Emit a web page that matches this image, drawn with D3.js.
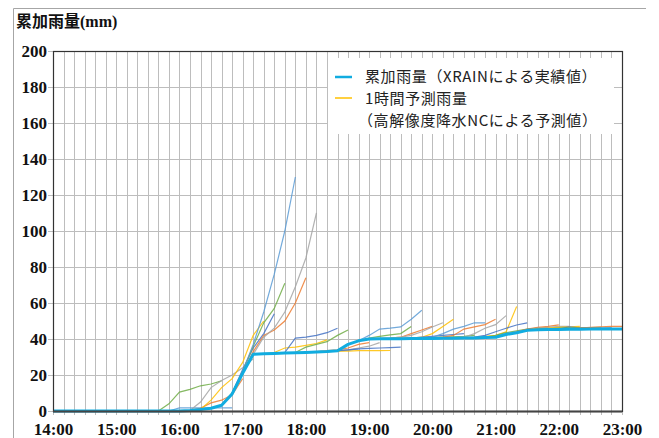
<!DOCTYPE html>
<html>
<head>
<meta charset="utf-8">
<script src="https://cdn.jsdelivr.net/npm/d3@7"></script>
<style>
  html, body { margin: 0; padding: 0; background: #fff; }
  svg { display: block; }
</style>
</head>
<body>
<svg id="chart" width="659" height="438"></svg>
<script>
// Observed cumulative rainfall (XRAIN), every 10 minutes
const obsTimes = ["14:00","14:10","14:20","14:30","14:40","14:50","15:00","15:10","15:20","15:30","15:40","15:50",
  "16:00","16:10","16:20","16:30","16:40","16:50","17:00","17:10","17:20","17:30","17:40","17:50",
  "18:00","18:10","18:20","18:30","18:40","18:50","19:00","19:10","19:20","19:30","19:40","19:50",
  "20:00","20:10","20:20","20:30","20:40","20:50","21:00","21:10","21:20","21:30","21:40","21:50",
  "22:00","22:10","22:20","22:30","22:40","22:50","23:00"];
const obsValues = [0,0,0,0,0,0,0,0,0,0,0,0,
  0,0.3,0.8,1.5,3.2,9.5,21,31.5,31.8,32,32.2,32.3,
  32.5,32.8,33,33.5,37,39,40,40.2,40.2,40.2,40.3,40.3,
  40.3,40.4,40.4,40.5,40.6,40.8,41,42.5,43.5,44.8,45.2,45.3,
  45.3,45.4,45.4,45.5,45.5,45.5,45.5];

// One-hour forecasts (high-resolution nowcast): issue time and values at +0..+60 min
const fcStarts = ["15:40","15:50","16:00","16:10","16:20","16:30","16:40","16:50","17:00","17:10",
  "17:20","17:30","17:40","17:50","18:00","18:10","18:20","18:30","18:40","18:50",
  "19:00","19:10","19:20","19:30","19:40","19:50","20:00","20:10","20:20","20:30",
  "20:40","20:50","21:00","21:10","21:20","21:30","21:40","21:50","22:00"];
const fcValues = [
  [0,4,10.5,12,14,15,16.7],
  [0,1.7,1.7,1.7,1.7,1.7,1.7],
  [0,0.3,1.5,4.5,6,9,18],
  [0.3,5,13,17,20,24,29],
  [0.8,6,13,18,27,42,50],
  [1.5,3,10,23,35,43,54],
  [3.2,10,22,36,49,57,71],
  [9.5,22,37,55,76,100,130],
  [21,33,42,45,50,60,74],
  [31.5,41,46,55,69,85,110],
  [31.8,32.5,35,35.5,36.5,37.5,39.5],
  [32,32.5,40.5,41,42,43.5,46],
  [32.2,32.5,35.5,37,38.5,42,45],
  [32.3,32.5,32.8,33,33.3,33.8,34.5],
  [32.5,33,33.5,34,35,37,38],
  [32.8,33,33.5,34,35,36,38],
  [33,33.2,33.3,33.5,33.5,33.5,33.6],
  [33.5,34,34.5,34.8,35,35.2,35.5],
  [37,39,40.5,41.5,42.3,43,47],
  [39,42,45.5,46,46.7,51,56],
  [40,40.2,40.5,41,43,45,47],
  [40.2,40.5,41,42,44,46.7,49],
  [40.2,40.3,40.5,41,43,47,51],
  [40.2,40.5,41,41.5,42,42.5,43],
  [40.3,40.5,40.8,41,41.2,41.5,42],
  [40.3,41,43,45.5,47,49,49],
  [40.3,41,42,45.5,46.7,48,51],
  [40.4,40.5,41,43,46,48,53],
  [40.4,40.5,40.8,41.5,42,44,58],
  [40.5,41,42,44,46,47.8,49],
  [40.6,41,42,43.5,44.5,45.5,46],
  [40.8,41.5,43,44,45,46,46.5],
  [41,42.5,44,45.5,46.5,47,47.8],
  [42.5,44,45,46,46.5,47,47],
  [43.5,45,45.8,46,46.5,46.8,47],
  [44.8,45.3,45.5,45.6,46.7,46.2,46],
  [45.2,45.8,46,46.2,46.3,46.4,46.5],
  [45.3,45.5,45.8,46,46,46.2,46.3],
  [45.3,45.5,46,46.5,46.8,47,47]
];
// Series colours cycle with the issue minute (:00 .. :50)
const fcPalette = ["#ED7D31","#A5A5A5","#FFC000","#4472C4","#70AD47","#5B9BD5"];

const yTicks = [0,20,40,60,80,100,120,140,160,180,200];
const xTickLabels = ["14:00","15:00","16:00","17:00","18:00","19:00","20:00","21:00","22:00","23:00"];
const legendLabels = ["累加雨量（XRAINによる実績値）","1時間予測雨量","（高解像度降水NCによる予測値）"];
const titleText = "累加雨量(mm)";

const toMin = s => { const [h, m] = s.split(":").map(Number); return (h - 14) * 60 + m; };

const svg = d3.select("#chart");
const M = { left: 53, right: 622, top: 51, bottom: 411 };

const x = d3.scaleLinear().domain([0, 540]).range([M.left, M.right]);
const y = d3.scaleLinear().domain([0, 200]).range([M.bottom, M.top]);

// Outer frame (top and left)
svg.append("path").attr("d", `M13.5,438 V8.5 H646`).attr("fill", "none").attr("stroke", "#a6a6a6").attr("stroke-width", 1);

// Title
svg.append("text").attr("x", 16).attr("y", 27)
  .attr("font-family", "'Liberation Serif','Noto Sans CJK JP',serif").attr("font-weight", "bold").attr("font-size", 16)
  .attr("fill", "#111").text(titleText);

// Grid
const minutes = d3.range(0, 541, 10);
svg.append("g").selectAll("line").data(minutes).join("line")
  .attr("x1", d => Math.round(x(d)) + 0.5).attr("x2", d => Math.round(x(d)) + 0.5)
  .attr("y1", M.top).attr("y2", M.bottom + 4)
  .attr("stroke", "#bdbdbd").attr("stroke-width", 1);
svg.append("g").selectAll("line").data(yTicks).join("line")
  .attr("x1", M.left - 5).attr("x2", M.right)
  .attr("y1", d => Math.round(y(d)) + 0.5).attr("y2", d => Math.round(y(d)) + 0.5)
  .attr("stroke", "#bdbdbd").attr("stroke-width", 1);

// Legend backdrop hides the grid behind it
svg.append("rect").attr("x", 328).attr("y", 58).attr("width", 286).attr("height", 76).attr("fill", "#fff");

// Forecast lines
const line = d3.line().x(d => x(d[0])).y(d => y(d[1]));
const fcData = fcStarts.map((s, i) => {
  const t0 = toMin(s);
  return { color: fcPalette[(t0 / 10) % 6], pts: fcValues[i].map((v, k) => [t0 + k * 10, v]) };
});
svg.append("g").selectAll("path").data(fcData).join("path")
  .attr("d", d => line(d.pts)).attr("fill", "none")
  .attr("stroke", d => d.color).attr("stroke-width", 1.2).attr("stroke-opacity", 0.85);

// Observed line
const obs = obsTimes.map((t, i) => [toMin(t), obsValues[i]]);
svg.append("path").attr("d", line(obs)).attr("fill", "none")
  .attr("stroke", "#11ACE0").attr("stroke-width", 3).attr("stroke-linejoin", "round");

// Plot frame
svg.append("rect").attr("x", M.left + 0.5).attr("y", M.top + 0.5)
  .attr("width", M.right - M.left).attr("height", M.bottom - M.top)
  .attr("fill", "none").attr("stroke", "#333").attr("stroke-width", 1.2);
svg.append("line").attr("x1", M.left).attr("x2", M.right).attr("y1", M.bottom + 0.5).attr("y2", M.bottom + 0.5)
  .attr("stroke", "#444").attr("stroke-width", 2);

// Axes labels
const yAxis = d3.axisLeft(y).tickValues(yTicks).tickSize(0).tickPadding(6);
const gy = svg.append("g").attr("transform", `translate(${M.left},0)`).call(yAxis);
gy.select(".domain").remove();
gy.selectAll("text").attr("font-family", "'Liberation Serif',serif").attr("font-weight", "bold")
  .attr("font-size", 17).attr("fill", "#111");

const xAxis = d3.axisBottom(x).tickValues(xTickLabels.map(toMin)).tickFormat((d, i) => xTickLabels[i])
  .tickSize(0).tickPadding(12);
const gx = svg.append("g").attr("transform", `translate(0,${M.bottom})`).call(xAxis);
gx.select(".domain").remove();
gx.selectAll("text").attr("font-family", "'Liberation Serif',serif").attr("font-weight", "bold")
  .attr("font-size", 17).attr("fill", "#111");

// Legend
const lg = svg.append("g").attr("font-family", "'Noto Sans CJK JP',sans-serif").attr("font-size", 15)
  .attr("letter-spacing", 0.6).attr("fill", "#222");
lg.append("line").attr("x1", 335).attr("x2", 352).attr("y1", 77).attr("y2", 77).attr("stroke", "#11ACE0").attr("stroke-width", 2.5);
lg.append("line").attr("x1", 335).attr("x2", 352).attr("y1", 98).attr("y2", 98).attr("stroke", "#FFC000").attr("stroke-width", 1.5);
lg.append("text").attr("x", 365).attr("y", 82).text(legendLabels[0]);
lg.append("text").attr("x", 365).attr("y", 104).text(legendLabels[1]);
lg.append("text").attr("x", 358).attr("y", 126).text(legendLabels[2]);
</script>
</body>
</html>
